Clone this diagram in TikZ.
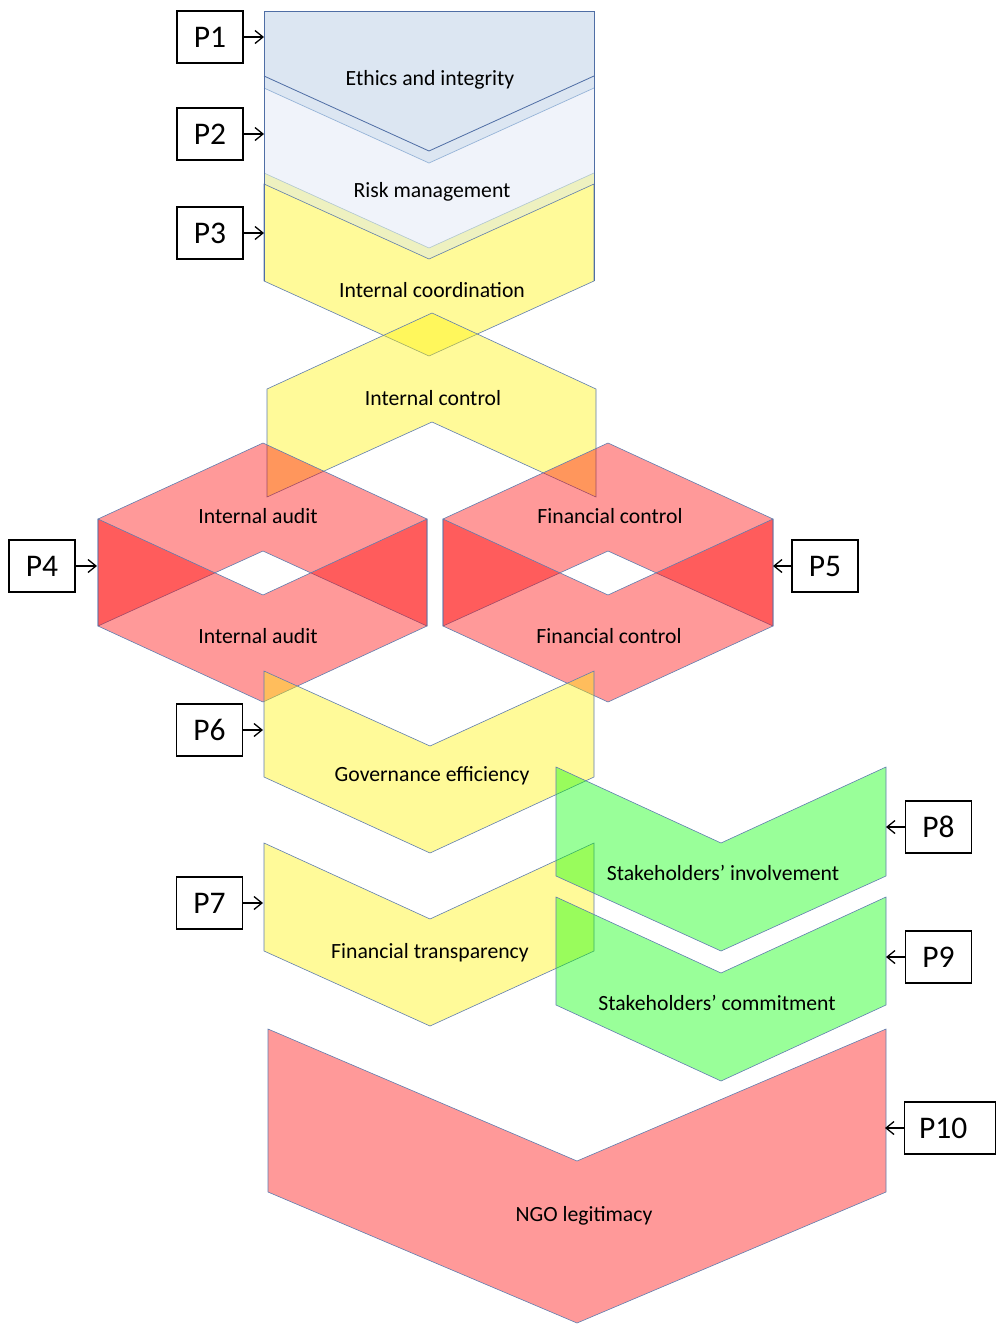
\documentclass[tikz,border=0pt]{standalone}
\usepackage{fontspec}
\setmainfont{Carlito}
\usetikzlibrary{arrows.meta}
\definecolor{blueA}{RGB}{220,230,242}
\definecolor{blueB}{RGB}{240,243,250}
\definecolor{bandC}{RGB}{238,241,192}
\definecolor{edgeDark}{RGB}{79,110,165}
\definecolor{edgeLight}{RGB}{149,179,215}
\definecolor{edgeShape}{RGB}{95,125,175}
\tikzset{
  ylw/.style={fill=yellow, fill opacity=0.4, draw=edgeShape, draw opacity=1, line width=0.6pt},
  rd/.style={fill=red, fill opacity=0.4, draw=edgeShape, draw opacity=1, line width=0.6pt},
  grn/.style={fill=green, fill opacity=0.4, draw=edgeShape, draw opacity=1, line width=0.6pt},
  lbl/.style={font=\fontsize{21.7}{26}\selectfont, text=black, inner sep=0pt},
  pbox/.style={draw=black, line width=1.4pt, minimum width=66pt, minimum height=52pt, inner sep=0pt, font=\fontsize{31.5}{36}\selectfont, fill=white},
  parrow/.style={line width=1.3pt, -{Straight Barb[length=8pt,width=13pt,line width=1.3pt]}}
}
\begin{document}
\begin{tikzpicture}[x=1pt,y=-1pt]
\useasboundingbox (0,0) rectangle (997,1326);
% top blue shapes
\fill[blueA] (264,11) -- (594,11) -- (594,88) -- (429,163) -- (264,88) -- cycle;
\fill[blueB] (264,88) -- (429,163) -- (594,88) -- (594,173) -- (429,248) -- (264,173) -- cycle;
\fill[bandC] (264,173) -- (429,248) -- (594,173) -- (594,184) -- (429,259) -- (264,184) -- cycle;
\draw[ylw] (264,184) -- (429,259) -- (594,184) -- (594,281) -- (429,356) -- (264,281) -- cycle;
\draw[edgeLight, line width=0.7pt] (264,88) -- (429,163) -- (594,88);
\draw[edgeLight!70!bandC, line width=0.6pt] (264,173) -- (429,248) -- (594,173);
\draw[edgeDark, line width=0.8pt] (264,76) -- (429,151) -- (594,76);
\draw[edgeDark, line width=0.8pt] (264,281) -- (264,11) -- (594,11) -- (594,281);
% internal control
\draw[ylw] (267,389) -- (432,313) -- (596,389) -- (596,497) -- (432,422) -- (267,497) -- cycle;
% internal audit
\draw[rd] (98,519) -- (263,443) -- (427,519) -- (427,626) -- (263,551) -- (98,626) -- cycle;
\draw[rd] (98,519) -- (263,595) -- (427,519) -- (427,626) -- (263,702) -- (98,626) -- cycle;
% financial control
\draw[rd] (443,519) -- (608,443) -- (773,519) -- (773,626) -- (608,551) -- (443,626) -- cycle;
\draw[rd] (443,519) -- (608,595) -- (773,519) -- (773,626) -- (608,702) -- (443,626) -- cycle;
% governance efficiency, financial transparency
\draw[ylw] (264,671) -- (430,746) -- (594,671) -- (594,777) -- (430,853) -- (264,777) -- cycle;
\draw[ylw] (264,843) -- (430,919) -- (594,843) -- (594,951) -- (430,1026) -- (264,951) -- cycle;
% stakeholders
\draw[grn] (556,767) -- (721,843) -- (886,767) -- (886,876) -- (721,951) -- (556,876) -- cycle;
\draw[grn] (556,897) -- (721,973) -- (886,897) -- (886,1005) -- (721,1081) -- (556,1005) -- cycle;
% NGO legitimacy
\draw[rd] (268,1029) -- (577,1161) -- (886,1029) -- (886,1192) -- (577,1323) -- (268,1192) -- cycle;
% labels
\node[lbl] (lEthics) at (430,80) {Ethics and integrity};
\node[lbl] (lRisk) at (432,192) {Risk management};
\node[lbl] (lCoord) at (432,290) {Internal coordination};
\node[lbl] (lCtrl) at (433,398) {Internal control};
\node[lbl] (lAudA) at (258,516) {Internal audit};
\node[lbl] (lAudB) at (258,636) {Internal audit};
\node[lbl] (lFinA) at (610,516) {Financial control};
\node[lbl] (lFinB) at (609,636) {Financial control};
\node[lbl] (lGov) at (432,776) {Governance efficiency};
\node[lbl] (lTrans) at (430,953) {Financial transparency};
\node[lbl] (lInv) at (723,873) {Stakeholders’ involvement};
\node[lbl] (lCom) at (717,1003) {Stakeholders’ commitment};
\node[lbl] (lNGO) at (584,1216) {NGO legitimacy};
% P boxes
\node[pbox] (p1) at (210,37) {P1};
\node[pbox] (p2) at (210,134) {P2};
\node[pbox] (p3) at (210,233) {P3};
\node[pbox] (p4) at (42,566) {P4};
\node[pbox] (p5) at (825,566) {P5};
\node[pbox] (p6) at (209.5,730) {P6};
\node[pbox] (p7) at (209.5,903) {P7};
\node[pbox] (p8) at (938.5,827) {P8};
\node[pbox] (p9) at (938.5,957) {P9};
\node[pbox, minimum width=91pt] (p10) at (950,1128) {\makebox[62pt][l]{P10}};
% arrow targets
\coordinate (t1) at (264,37);
\coordinate (t2) at (264,134);
\coordinate (t3) at (264,233);
\coordinate (t4) at (97,566);
\coordinate (t5) at (773,566);
\coordinate (t6) at (263,730);
\coordinate (t7) at (263,903);
\coordinate (t8) at (886,827);
\coordinate (t9) at (886,957);
\coordinate (t10) at (885,1128);
\draw[parrow] (p1) -- (t1);
\draw[parrow] (p2) -- (t2);
\draw[parrow] (p3) -- (t3);
\draw[parrow] (p4) -- (t4);
\draw[parrow] (p5) -- (t5);
\draw[parrow] (p6) -- (t6);
\draw[parrow] (p7) -- (t7);
\draw[parrow] (p8) -- (t8);
\draw[parrow] (p9) -- (t9);
\draw[parrow] (p10) -- (t10);
\end{tikzpicture}
\end{document}
